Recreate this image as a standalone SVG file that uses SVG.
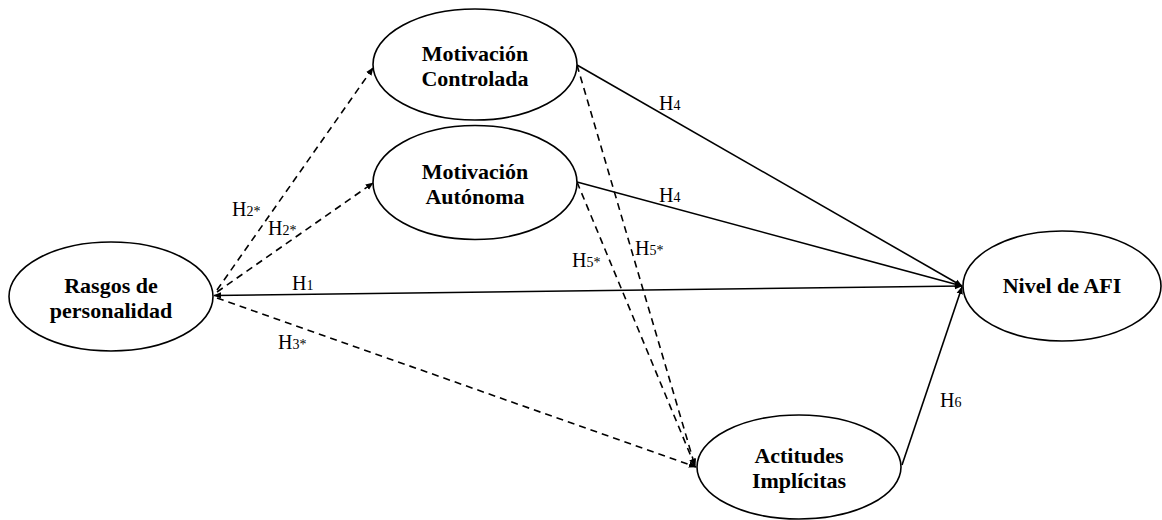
<svg xmlns="http://www.w3.org/2000/svg" width="1162" height="520" viewBox="0 0 1162 520">
<style>
.node{fill:#fff;stroke:#000;stroke-width:1.6}
.nt{font-family:"Liberation Serif","Times New Roman",serif;font-weight:bold;font-size:22px;text-anchor:middle;fill:#000}
.c{fill:none;stroke:#000;stroke-width:1.6}
.d{stroke-dasharray:7 5}
.lb{font-family:"Liberation Serif","Times New Roman",serif;font-size:20px;fill:#000}
.sb{font-size:14px}
</style>
<defs>
<marker id="ah" viewBox="0 0 10 10" refX="9" refY="5" markerWidth="8" markerHeight="8" markerUnits="userSpaceOnUse" orient="auto-start-reverse">
<path d="M0,1 L10,5 L0,9 z" fill="#000"/>
</marker>
</defs>
<rect width="1162" height="520" fill="#fff"/>
<g id="connectors">
<line class="c" x1="214" y1="295.5" x2="962" y2="286" marker-start="url(#ah)" marker-end="url(#ah)"/>
<line class="c d" x1="217" y1="290" x2="373" y2="68" marker-end="url(#ah)"/>
<line class="c d" x1="217" y1="292" x2="373" y2="183" marker-end="url(#ah)"/>
<line class="c d" x1="217" y1="298" x2="696" y2="467" marker-end="url(#ah)"/>
<line class="c" x1="577" y1="65" x2="962" y2="286" marker-end="url(#ah)"/>
<line class="c" x1="577" y1="182" x2="962" y2="286" marker-end="url(#ah)"/>
<line class="c d" x1="577" y1="65" x2="695" y2="466" marker-end="url(#ah)"/>
<line class="c d" x1="577" y1="182" x2="695" y2="466" marker-end="url(#ah)"/>
<line class="c" x1="902" y1="465" x2="962" y2="287" marker-end="url(#ah)"/>
</g>
<g id="labels">
<text class="lb" x="232" y="216">H<tspan class="sb">2*</tspan></text>
<text class="lb" x="268" y="235">H<tspan class="sb">2*</tspan></text>
<text class="lb" x="292" y="290">H<tspan class="sb">1</tspan></text>
<text class="lb" x="278" y="349">H<tspan class="sb">3*</tspan></text>
<text class="lb" x="659" y="110">H<tspan class="sb">4</tspan></text>
<text class="lb" x="659" y="202">H<tspan class="sb">4</tspan></text>
<text class="lb" x="635" y="255">H<tspan class="sb">5*</tspan></text>
<text class="lb" x="572" y="267">H<tspan class="sb">5*</tspan></text>
<text class="lb" x="940" y="407">H<tspan class="sb">6</tspan></text>
</g>
<g id="rasgos">
<ellipse class="node" cx="111" cy="296.5" rx="102" ry="54.5"/>
<text class="nt" x="111" y="293">Rasgos de</text>
<text class="nt" x="111" y="318">personalidad</text>
</g>
<g id="mot-controlada">
<ellipse class="node" cx="475" cy="64.5" rx="102" ry="55.5"/>
<text class="nt" x="475" y="61">Motivación</text>
<text class="nt" x="475" y="86">Controlada</text>
</g>
<g id="mot-autonoma">
<ellipse class="node" cx="475" cy="182.5" rx="102" ry="57"/>
<text class="nt" x="475" y="179">Motivación</text>
<text class="nt" x="475" y="204">Autónoma</text>
</g>
<g id="nivel-afi">
<ellipse class="node" cx="1062" cy="286" rx="99" ry="55"/>
<text class="nt" x="1062" y="293">Nivel de AFI</text>
</g>
<g id="actitudes">
<ellipse class="node" cx="799" cy="467" rx="102" ry="52"/>
<text class="nt" x="799" y="463">Actitudes</text>
<text class="nt" x="799" y="488">Implícitas</text>
</g>
</svg>
